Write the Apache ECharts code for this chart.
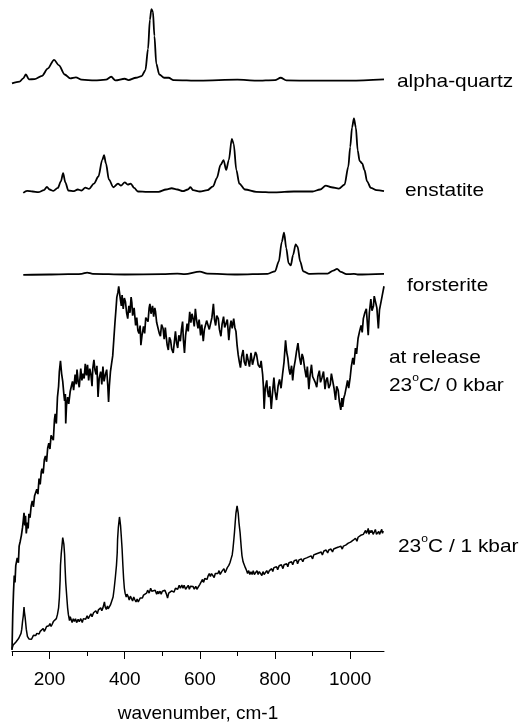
<!DOCTYPE html>
<html lang="en">
<head>
    <meta charset="UTF-8">
    <title>Raman spectra</title>
    <script src="https://cdn.jsdelivr.net/npm/echarts@6/dist/echarts.min.js"></script>
    <style>
        html, body { margin: 0; padding: 0; background: #fff; }
        #chart { width: 531px; height: 728px; }
    </style>
</head>
<body>
<div id="chart"></div>
<script>
    // wavenumber ticks
    var tickLabels = [200, 400, 600, 800, 1000];
    var minorTicks = [100, 300, 500, 700, 900];

    // spectra as [wavenumber, intensity incl. stacking offset]
    var quartzData = [[100, 579], [120, 580.7], [130, 584], [137, 588], [145, 583], [160, 583.3], [180, 586.7], [195, 594],
        [212, 603], [225, 597.3], [240, 588], [255, 584], [270, 585], [285, 582.7], [320, 582], [350, 582.7], [364, 585.7],
        [375, 582], [400, 583.7], [410, 582.3], [430, 584.7], [445, 586.3], [455, 592.3], [462, 614], [467, 644], [471, 654.7],
        [475, 652.3], [479, 627.3], [484, 599], [492, 588], [505, 584.7], [517, 584.7], [530, 582.3], [600, 581.7], [700, 582.7],
        [750, 581.7], [800, 582.3], [815, 584.7], [830, 582], [900, 581.7], [1000, 581.7], [1090, 583]];

    var enstatiteData = [[130, 467.3], [140, 469.3], [155, 468.7], [170, 468], [185, 470], [193, 473.3], [200, 470.7],
        [210, 469.3], [222, 472.3], [230, 479], [236, 487.3], [242, 478], [250, 469.7], [265, 469], [275, 470.7], [285, 469.7],
        [295, 472.7], [305, 471.3], [318, 476.7], [330, 484], [340, 500.7], [345, 505.7], [350, 497.3], [358, 480.7], [370, 473],
        [382, 476.7], [390, 474.7], [400, 478], [408, 475.7], [416, 476.7], [425, 472.3], [435, 468.7], [460, 468.3], [490, 468.3],
        [510, 470.7], [525, 472], [540, 470.7], [555, 469], [568, 470.7], [575, 473], [582, 470], [600, 468.7], [620, 470],
        [635, 474], [645, 482.3], [655, 495.7], [663, 500.7], [670, 490.7], [677, 500.7], [685, 522.3], [690, 517.3], [697, 490.7],
        [705, 476.7], [720, 470.7], [750, 468.3], [800, 467.7], [850, 468.7], [900, 468.7], [920, 470.7], [935, 474.7], [950, 473],
        [970, 471.7], [985, 475.7], [995, 494], [1000, 514], [1005, 534], [1010, 543.3], [1015, 534], [1020, 510.7], [1025, 500],
        [1032, 497.3], [1038, 490.7], [1045, 479], [1055, 472.3], [1070, 470], [1090, 469]];

    var forsteriteData = [[130, 383.7], [200, 384], [250, 384.3], [270, 384.3], [285, 384.7], [300, 386], [315, 384.7],
        [400, 384], [500, 384.3], [540, 385], [560, 384.3], [600, 387], [620, 385], [700, 384], [780, 384.7], [800, 387.3],
        [810, 397.3], [818, 417.3], [824, 426.7], [830, 410.7], [836, 395.7], [842, 393.3], [848, 404], [855, 414.7], [860, 412.3],
        [867, 397.3], [875, 387.3], [890, 384.7], [940, 385], [955, 388], [965, 389.7], [975, 386.7], [990, 384.3], [1010, 384.7],
        [1020, 384], [1090, 384.7]];

    // at release, 23 C / 0 kbar (noisy trace, upper and lower edges of the band)
    var releaseData = [[100, 1], [102, 37], [104, 60], [106, 77], [108, 70], [110, 87], [114, 95], [117, 90], [119, 107],
        [122, 112], [125, 118], [128, 126], [130, 133], [132, 141], [134, 128], [136, 138], [138, 120], [141, 131], [143, 125],
        [145, 140], [148, 136], [151, 148], [154, 153], [157, 147], [160, 158], [163, 160], [166, 165], [169, 160], [172, 176],
        [175, 170], [178, 183], [180, 186], [183, 181], [186, 195], [189, 199], [192, 193], [195, 207], [198, 212], [201, 206],
        [204, 220], [207, 222], [210, 215], [213, 236], [215, 242], [218, 232], [221, 259], [224, 270], [226, 285], [229, 296],
        [232, 283], [235, 275], [238, 262], [240, 255], [242, 262], [243, 232], [245, 250], [248, 259], [251, 252], [255, 265],
        [258, 270], [261, 275], [264, 266], [268, 282], [271, 272], [273, 287], [276, 275], [279, 269], [283, 288], [286, 276],
        [289, 283], [292, 278], [295, 293], [298, 281], [301, 292], [304, 276], [307, 288], [310, 282], [313, 270], [315, 288],
        [318, 297], [321, 286], [324, 282], [326, 291], [329, 259], [332, 278], [336, 285], [339, 272], [342, 290], [345, 275],
        [348, 281], [352, 287], [355, 270], [357, 254], [359, 270], [362, 285], [365, 293], [368, 301], [371, 318], [374, 335],
        [377, 350], [379, 361], [382, 366], [384, 372], [386, 371], [388, 360], [391, 352], [393, 363], [396, 349], [399, 360],
        [402, 356], [405, 345], [408, 339], [411, 352], [414, 345], [417, 361], [419, 355], [421, 342], [425, 350], [429, 332],
        [432, 340], [435, 327], [438, 324], [441, 332], [443, 312], [446, 322], [450, 331], [453, 324], [456, 340], [459, 342],
        [462, 336], [465, 350], [467, 354], [470, 344], [474, 352], [477, 341], [480, 350], [482, 346], [485, 335], [489, 336],
        [492, 324], [495, 321], [498, 333], [502, 329], [505, 318], [508, 330], [510, 322], [513, 312], [516, 307], [519, 320],
        [522, 317], [525, 308], [529, 304], [532, 315], [535, 326], [538, 314], [541, 309], [544, 322], [548, 316], [551, 328],
        [554, 336], [556, 318], [559, 304], [562, 322], [566, 334], [569, 326], [573, 346], [576, 335], [579, 344], [582, 339],
        [585, 331], [588, 349], [591, 338], [595, 329], [598, 338], [602, 322], [605, 333], [609, 316], [612, 328], [615, 327],
        [618, 337], [622, 339], [625, 328], [629, 329], [632, 340], [636, 354], [639, 338], [642, 332], [645, 342], [649, 339],
        [652, 328], [656, 321], [659, 333], [663, 341], [666, 330], [670, 329], [673, 338], [677, 317], [680, 330], [683, 337],
        [686, 329], [690, 339], [693, 330], [696, 326], [699, 312], [702, 302], [705, 295], [708, 289], [711, 300], [715, 307],
        [718, 295], [722, 291], [725, 303], [729, 302], [732, 290], [736, 304], [740, 292], [745, 294], [748, 305], [751, 302],
        [755, 292], [760, 289], [763, 296], [767, 282], [769, 270], [771, 247], [774, 268], [778, 276], [780, 265], [783, 259],
        [786, 270], [790, 247], [793, 262], [797, 279], [800, 265], [804, 256], [808, 270], [812, 277], [816, 268], [820, 282],
        [824, 295], [828, 317], [831, 305], [834, 299], [837, 288], [840, 282], [844, 291], [847, 276], [850, 288], [854, 297],
        [857, 305], [861, 314], [865, 300], [869, 292], [872, 303], [875, 299], [879, 288], [883, 279], [886, 290], [890, 267],
        [893, 280], [897, 292], [900, 280], [904, 282], [907, 274], [911, 269], [914, 280], [918, 286], [921, 274], [925, 279],
        [929, 285], [933, 267], [936, 276], [939, 279], [943, 268], [947, 272], [950, 283], [954, 282], [957, 268], [961, 256],
        [964, 270], [968, 266], [971, 255], [975, 246], [978, 258], [980, 249], [983, 258], [986, 262], [990, 270], [993, 276],
        [996, 268], [1000, 279], [1003, 290], [1007, 299], [1010, 292], [1014, 309], [1017, 303], [1021, 319], [1025, 326],
        [1029, 332], [1032, 325], [1035, 339], [1039, 345], [1043, 349], [1045, 338], [1048, 322], [1051, 345], [1055, 359],
        [1058, 347], [1062, 352], [1064, 362], [1067, 364], [1071, 350], [1075, 329], [1078, 348], [1082, 350], [1085, 362],
        [1087, 360], [1090, 372]];

    // 23 C / 1 kbar
    var kbarData = [[100, 2.3], [103, 6], [106, 7.3], [110, 9], [115, 10.7], [118, 13], [121, 14], [124, 18], [126, 22.3],
        [128, 30], [130, 35.7], [132, 44.7], [133, 40], [135, 34], [138, 22.3], [141, 15], [145, 12.3], [149, 14], [152, 12],
        [154, 13.3], [157, 16], [160, 14], [163, 15.7], [166, 18], [169, 16], [172, 17.3], [175, 20], [178, 18], [180, 20],
        [183, 23], [186, 20], [189, 22.3], [192, 25], [195, 23], [198, 25.7], [201, 28], [204, 25], [207, 27.3], [210, 30],
        [213, 28], [215, 30.7], [218, 33], [221, 37.3], [224, 44], [226, 54], [228, 72], [229, 87.3], [231, 99], [233, 107.3],
        [235, 115.7], [236, 114], [238, 109], [240, 98], [241, 87.3], [243, 70], [246, 54], [248, 44], [250, 37.3], [253, 31],
        [255, 35], [257, 33.3], [260, 29], [263, 33], [266, 30], [269, 33], [272, 29], [276, 32.3], [279, 30], [283, 33],
        [287, 29], [290, 33], [293, 31], [296, 32.3], [300, 36], [303, 33], [307, 34.7], [310, 38], [313, 35], [317, 39],
        [320, 37.3], [323, 41], [327, 38], [330, 42], [333, 40], [336, 44], [339, 41], [342, 44], [344, 47], [346, 50],
        [348, 45], [351, 42.3], [354, 46], [356, 43], [359, 44], [362, 47], [366, 49], [369, 55], [372, 64], [375, 75],
        [378, 87.3], [380, 100], [381, 114], [383, 126], [386, 136.7], [387, 134], [389, 127.3], [391, 116], [393, 104],
        [395, 88], [397, 74], [399, 64], [401, 59], [404, 55], [406, 58], [409, 55.7], [412, 52], [415, 56], [418, 54],
        [421, 51], [424, 55], [427, 52.3], [430, 50], [433, 53], [436, 50], [438, 50.7], [441, 54], [444, 52], [447, 54],
        [450, 57], [454, 55], [458, 59], [461, 62], [465, 59], [469, 64], [472, 61], [475, 63], [477, 60.7], [481, 62],
        [485, 58], [488, 61], [490, 58.3], [494, 61], [497, 58], [500, 61], [504, 59], [507, 62], [511, 58], [514, 54],
        [517, 59], [521, 57], [525, 61.3], [528, 63], [531, 60], [535, 64], [538, 65.7], [541, 63], [545, 67], [548, 64],
        [552, 67.3], [555, 64], [558, 67], [562, 63], [565, 64], [569, 67], [572, 63], [575, 66], [578, 64], [582, 65.7],
        [585, 63], [589, 66], [592, 63], [596, 64], [600, 68], [604, 69], [607, 73], [610, 70], [613, 74], [616, 76], [619, 73],
        [622, 76.7], [625, 79], [628, 76], [631, 79], [635, 78], [638, 75], [641, 79], [644, 77], [648, 79], [651, 82],
        [654, 78], [658, 81], [661, 80.7], [664, 84], [667, 80], [670, 82.3], [673, 85], [677, 87.3], [680, 90], [683, 94],
        [686, 98], [688, 104], [690, 112], [692, 120.7], [694, 131], [696, 140.7], [699, 148], [700, 146], [702, 140.7],
        [704, 131], [707, 120.7], [710, 106], [712, 97.3], [715, 91], [718, 89], [721, 85], [724, 82.3], [727, 79], [730, 82],
        [733, 78], [736, 80.7], [739, 78], [742, 82], [745, 78], [749, 79], [752, 82], [755, 78], [758, 81], [762, 80],
        [765, 77], [768, 81], [771, 78], [775, 79], [778, 82], [781, 79], [785, 82], [788, 80], [791, 84], [794, 81], [797, 85],
        [801, 83.3], [804, 86], [807, 83], [811, 87], [814, 85.7], [817, 88], [821, 84], [824, 88], [828, 87.3], [831, 89],
        [834, 86], [837, 90], [841, 89], [844, 91], [847, 88], [851, 92], [854, 90], [857, 93], [860, 89], [864, 93],
        [867, 91.3], [870, 94], [874, 91], [877, 94], [880, 92.3], [884, 95], [887, 93], [890, 96], [893, 94], [896, 97],
        [900, 94], [903, 98], [906, 96.7], [909, 99], [913, 97], [916, 100], [920, 99], [923, 101], [926, 98], [930, 102],
        [933, 100], [936, 103], [940, 100], [943, 103], [946, 101.3], [949, 104], [953, 101], [956, 104], [959, 102.3],
        [962, 105], [966, 103], [969, 106], [972, 104], [975, 107], [979, 104], [982, 107], [985, 105.7], [988, 108],
        [992, 106], [995, 110], [998, 109], [1001, 111], [1005, 110], [1008, 113], [1011, 112.3], [1014, 115], [1018, 112],
        [1021, 116], [1025, 114.7], [1028, 118], [1031, 116], [1035, 119], [1038, 119], [1041, 123], [1043, 120], [1046, 122.3],
        [1048, 125], [1050, 119], [1053, 123], [1055, 120.7], [1058, 123], [1061, 119], [1064, 121.3], [1067, 124], [1070, 119],
        [1073, 119], [1076, 122], [1078, 119], [1081, 120.7], [1084, 124], [1086, 120], [1088, 122.3]];

    var labelTexts = ['alpha-quartz', 'enstatite', 'forsterite', 'at release\n23{sup|o}C/ 0 kbar', '23{sup|o}C / 1 kbar'];

    var FONT = "'Liberation Sans', Arial, Helvetica, sans-serif";

    function spectrum(name, data, width, smooth) {
        return {
            name: name,
            type: 'line',
            xAxisIndex: 0,
            yAxisIndex: 0,
            data: data,
            showSymbol: false,
            smooth: smooth,
            smoothMonotone: 'x',
            silent: true,
            lineStyle: { color: '#000', width: width }
        };
    }

    function label(text, x, y, vAlign) {
        return {
            type: 'text',
            x: x,
            y: y,
            scaleX: 1.1,
            style: {
                text: text,
                fontSize: 19,
                fontFamily: FONT,
                fill: '#000',
                lineHeight: 28,
                verticalAlign: vAlign,
                rich: {
                    sup: { fontSize: 11, lineHeight: 17, verticalAlign: 'top', fontFamily: FONT, fill: '#000' }
                }
            }
        };
    }

    var chart = echarts.init(document.getElementById('chart'));

    chart.setOption({
        animation: false,
        backgroundColor: '#fff',
        grid: { left: 12, right: 147, top: 0, bottom: 64 },
        xAxis: [
            {
                type: 'value',
                min: 100,
                max: 1090,
                position: 'bottom',
                axisLine: { lineStyle: { color: '#000', width: 1 } },
                axisTick: { customValues: minorTicks, length: 5, lineStyle: { color: '#000' } },
                axisLabel: { show: false },
                splitLine: { show: false }
            },
            {
                type: 'value',
                min: 100,
                max: 1090,
                position: 'bottom',
                axisLine: { show: false },
                axisTick: { customValues: tickLabels, length: 8, lineStyle: { color: '#000' } },
                axisLabel: {
                    customValues: tickLabels,
                    fontSize: 19,
                    fontFamily: FONT,
                    color: '#000',
                    margin: 19,
                    formatter: function (v) { return String(v); }
                },
                splitLine: { show: false },
                name: 'wavenumber, cm-1',
                nameLocation: 'middle',
                nameGap: 53,
                nameTextStyle: { fontSize: 19, fontFamily: FONT, color: '#000' }
            }
        ],
        yAxis: { type: 'value', min: 0, max: 664, show: false },
        series: [
            spectrum('alpha-quartz', quartzData, 1.8, 0.3),
            spectrum('enstatite', enstatiteData, 1.8, 0.3),
            spectrum('forsterite', forsteriteData, 1.8, 0.3),
            spectrum('at release', releaseData, 1.7, false),
            spectrum('23C / 1 kbar', kbarData, 1.5, false)
        ],
        graphic: [
            label(labelTexts[0], 397, 82, 'middle'),
            label(labelTexts[1], 405, 191, 'middle'),
            label(labelTexts[2], 407, 286, 'middle'),
            label(labelTexts[3], 389, 344, 'top'),
            label(labelTexts[4], 398, 547, 'middle')
        ]
    });
</script>
</body>
</html>
